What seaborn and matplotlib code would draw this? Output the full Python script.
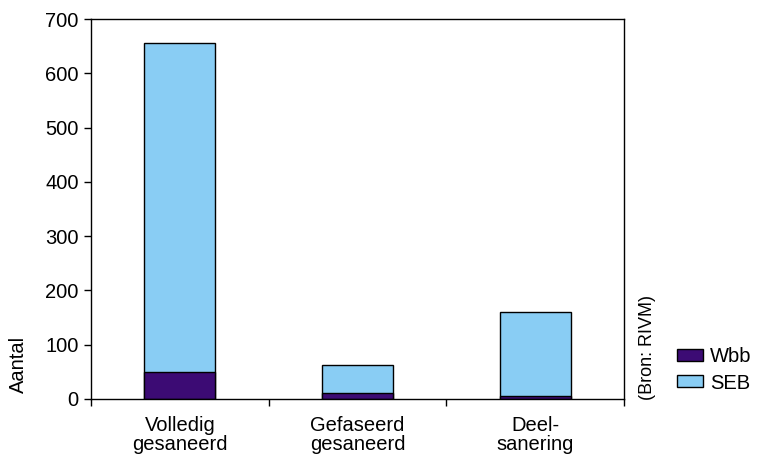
import matplotlib
matplotlib.use("Agg")
import matplotlib.pyplot as plt
import seaborn as sns
import pandas as pd
from matplotlib.patches import Patch

categorieen = ["Volledig\ngesaneerd", "Gefaseerd\ngesaneerd", "Deel-\nsanering"]
wbb = [49, 11, 6]
seb = [607, 51, 154]
kleur_wbb = "#3c0b74"
kleur_seb = "#89cdf4"

df = pd.DataFrame({"categorie": categorieen, "Wbb": wbb, "SEB": seb})
df["totaal"] = df["Wbb"] + df["SEB"]

sns.set_style("white")
plt.rcParams["font.family"] = ["Liberation Sans", "DejaVu Sans"]
plt.rcParams["text.color"] = "black"
plt.rcParams["axes.labelcolor"] = "black"
plt.rcParams["xtick.color"] = "black"
plt.rcParams["ytick.color"] = "black"

fig = plt.figure(figsize=(7.58, 4.55), dpi=100)
ax = fig.add_axes([91 / 758, 1 - 399 / 455, 533 / 758, 380 / 455])

# gestapeld: eerst totaal (SEB bovenop), dan Wbb eroverheen onderaan
sns.barplot(data=df, x="categorie", y="totaal", color=kleur_seb, saturation=1,
            width=0.4, edgecolor="black", linewidth=1, ax=ax)
sns.barplot(data=df, x="categorie", y="Wbb", color=kleur_wbb, saturation=1,
            width=0.4, edgecolor="black", linewidth=1, ax=ax)

fs = 14.5
ax.set_xlim(-0.5, 2.5)
ax.set_ylim(0, 700)
ax.set_yticks(range(0, 701, 100))
ax.set_xlabel("")
ax.set_ylabel("Aantal", fontsize=fs, va="center")
ax.yaxis.set_label_coords(-0.137, 0.09)

for s in ax.spines.values():
    s.set_color("black")
    s.set_linewidth(1)

ax.tick_params(axis="y", direction="out", length=5, width=1, color="black",
               labelsize=fs, pad=4, left=True, labelcolor="black")
ax.tick_params(axis="x", which="major", length=0, labelsize=fs, pad=12,
               labelcolor="black")
ax.set_xticks([-0.5, 0.5, 1.5, 2.5], minor=True)
ax.tick_params(axis="x", which="minor", direction="out", length=5, width=1,
               color="black", bottom=True)
for lbl in ax.get_xticklabels():
    lbl.set_linespacing(1.0)

fig.text(648 / 758, 1 - 347 / 455, "(Bron: RIVM)", rotation=90,
         ha="center", va="center", fontsize=13, color="black")

handles = [Patch(facecolor=kleur_wbb, edgecolor="black", label="Wbb"),
           Patch(facecolor=kleur_seb, edgecolor="black", label="SEB")]
fig.legend(handles=handles, loc="center left",
           bbox_to_anchor=(677 / 758, 1 - 370 / 455), frameon=False,
           fontsize=fs, borderpad=0, borderaxespad=0, handlelength=1.3,
           handleheight=0.55, handletextpad=0.35, labelspacing=0.35)

fig.savefig("out.png", dpi=100)
